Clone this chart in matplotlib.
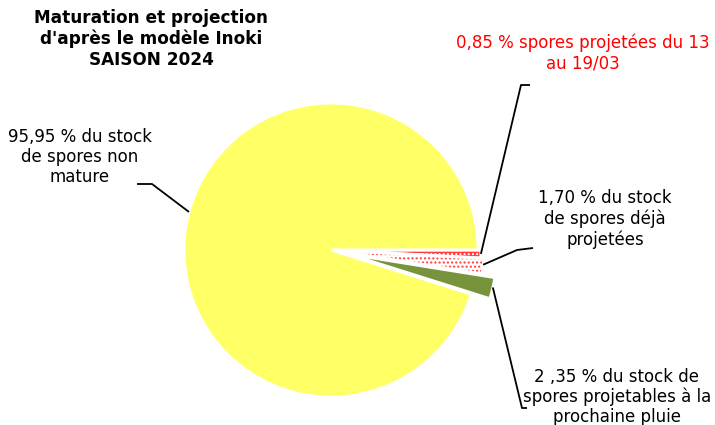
import numpy as np
import matplotlib.pyplot as plt

# Parts du stock de spores (modèle Inoki, saison 2024)
valeurs = [0.85, 1.70, 2.35, 95.95]
couleurs = ['#FF3B3B', '#FFFFFF', '#77933C', '#FFFF66']
hachures = ['....', '....', None, None]
couleurs_hachures = ['#FFFFFF', '#FF3B3B', '#77933C', '#FFFF66']
ecarts_rel = [0.02, 0.04, 0.13, 0.0]
etiquettes = [
    "0,85 % spores projetées du 13\nau 19/03",
    "1,70 % du stock\nde spores déjà\nprojetées",
    "2 ,35 % du stock de\nspores projetables à la\nprochaine pluie",
    "95,95 % du stock\nde spores non\nmature",
]
couleurs_texte = ['#FF0000', '#000000', '#000000', '#000000']
titre = "Maturation et projection\nd'après le modèle Inoki\nSAISON 2024"

fig = plt.figure(figsize=(7.15, 4.25), dpi=100)
ax = fig.add_axes([0, 0, 1, 1])

centre = (331, 250)
rayon = 147
# explode de pie() est en unités de données, pas en fraction du rayon
ecarts = [e * rayon for e in ecarts_rel]

# remplissage + hachures
parts, _ = ax.pie(valeurs, colors=couleurs, explode=ecarts, startangle=0,
                  counterclock=True, center=centre, radius=rayon,
                  wedgeprops=dict(linewidth=0), frame=True)
for w, h, hc in zip(parts, hachures, couleurs_hachures):
    w.set_edgecolor(hc)
    if h:
        w.set_hatch(h)

# bordures blanches
ax.pie(valeurs, colors=['none'] * 4, explode=ecarts, startangle=0,
       counterclock=True, center=centre, radius=rayon,
       wedgeprops=dict(linewidth=2, edgecolor='white'), frame=True)
ax.set_xlim(0, 715)
ax.set_ylim(425, 0)
ax.set_aspect('equal')
ax.axis('off')

# positions des étiquettes et coudes des lignes de rappel
pos_texte = [(583, 53), (605, 219), (617, 397), (80, 157)]
coudes = [[(521, 85), (530, 85)],
          [(517, 250), (533, 248)],
          [(522, 408), (527, 408)],
          [(152, 184), (137, 184)]]
angles_ligne = [1.5, 5.5, 13.0, 195]

for i, w in enumerate(parts):
    th = np.deg2rad(angles_ligne[i])
    cx, cy = w.center
    x0 = cx + w.r * np.cos(th)
    y0 = cy + w.r * np.sin(th)
    xs = [x0] + [p[0] for p in coudes[i]]
    ys = [y0] + [p[1] for p in coudes[i]]
    ax.plot(xs, ys, color='black', lw=1.3, solid_capstyle='butt')
    ax.text(pos_texte[i][0], pos_texte[i][1], etiquettes[i], ha='center',
            va='center', fontsize=12, color=couleurs_texte[i],
            linespacing=1.15, family='DejaVu Sans')

ax.text(151, 39, titre, ha='center', va='center', fontsize=12.2,
        fontweight='bold', linespacing=1.2, family='DejaVu Sans')

fig.savefig('out.png', dpi=100)
